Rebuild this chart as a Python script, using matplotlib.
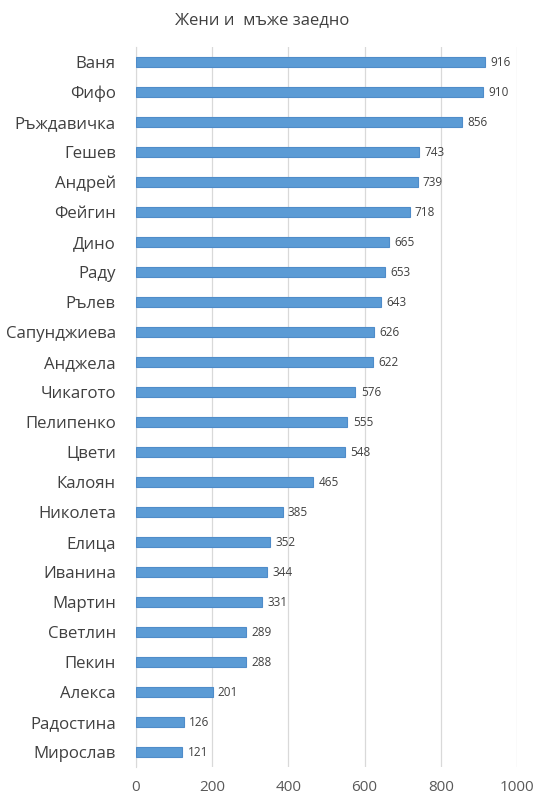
import matplotlib
matplotlib.use("Agg")
import matplotlib.pyplot as plt

names = [
    "Ваня", "Фифо", "Ръждавичка", "Гешев", "Андрей", "Фейгин", "Дино", "Раду",
    "Рълев", "Сапунджиева", "Анджела", "Чикагото", "Пелипенко", "Цвети",
    "Калоян", "Николета", "Елица", "Иванина", "Мартин", "Светлин", "Пекин",
    "Алекса", "Радостина", "Мирослав",
]
values = [916, 910, 856, 743, 739, 718, 665, 653, 643, 626, 622, 576, 555, 548,
          465, 385, 352, 344, 331, 289, 288, 201, 126, 121]
x_ticks = [0, 200, 400, 600, 800, 1000]

plt.rcParams["font.family"] = ["Open Sans", "DejaVu Sans"]

fig = plt.figure(figsize=(5.47, 8.0), dpi=100)
ax = fig.add_axes([0.2486, 0.041, 0.6965, 0.9])

ypos = list(range(len(names)))
ax.barh(ypos, values, height=0.32, color="#5B9BD5", edgecolor="#4F8CC9", linewidth=0.8, zorder=3)
for y, v in zip(ypos, values):
    ax.text(v + 14, y, str(v), va="center", ha="left", fontsize=8.5, color="#404040")

ax.set_ylim(len(names) - 0.5, -0.5)
ax.set_xlim(0, 1000)
ax.set_yticks(ypos)
ax.set_yticklabels(names, fontsize=12.1, color="#404040")
ax.set_xticks(x_ticks)
ax.set_xticklabels([str(t) for t in x_ticks], fontsize=11, color="#595959")
ax.tick_params(length=0)
ax.tick_params(axis="y", pad=14.5)
ax.tick_params(axis="x", pad=9)
ax.grid(axis="x", color="#D9D9D9", lw=0.9, zorder=0)
for s in ["top", "right", "bottom"]:
    ax.spines[s].set_visible(False)
ax.spines["left"].set_color("#D9D9D9")

fig.text(262 / 547, 1 - 20 / 800, "Жени и  мъже заедно", ha="center", va="center",
         fontsize=12, color="#404040")

fig.savefig("out.png", dpi=100)
